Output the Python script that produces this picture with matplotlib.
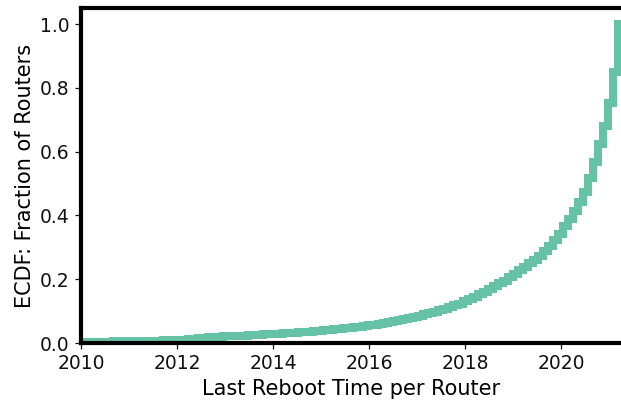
import numpy as np
import matplotlib
matplotlib.use('Agg')
import matplotlib.pyplot as plt

# cumulative fraction per bin, bins of ~38 days
bin_start = 2009.9375
bin_width = 0.10417
ecdf = [
    0.004, 0.004, 0.004, 0.005, 0.005, 0.005, 0.005, 0.006, 0.006, 0.006,
    0.006, 0.007, 0.007, 0.007, 0.008, 0.008, 0.008, 0.009, 0.009, 0.009,
    0.010, 0.011, 0.012, 0.014, 0.016, 0.017, 0.018, 0.019, 0.020, 0.021,
    0.021, 0.022, 0.023, 0.023, 0.024, 0.025, 0.026, 0.027, 0.028, 0.029,
    0.030, 0.031, 0.032, 0.033, 0.034, 0.035, 0.036, 0.038, 0.039, 0.041,
    0.042, 0.044, 0.045, 0.047, 0.048, 0.050, 0.052, 0.054, 0.056, 0.058,
    0.060, 0.063, 0.066, 0.069, 0.072, 0.075, 0.078, 0.082, 0.086, 0.090,
    0.095, 0.099, 0.103, 0.108, 0.113, 0.118, 0.124, 0.131, 0.138, 0.145,
    0.153, 0.161, 0.170, 0.179, 0.188, 0.196, 0.207, 0.218, 0.229, 0.240,
    0.250, 0.260, 0.274, 0.289, 0.305, 0.322, 0.342, 0.367, 0.389, 0.414,
    0.442, 0.473, 0.517, 0.567, 0.624, 0.680, 0.752, 0.851, 1.000,
]
data_end = 2021.6

xticks = [2010, 2012, 2014, 2016, 2018, 2020]
yticks = [0.0, 0.2, 0.4, 0.6, 0.8, 1.0]

x = bin_start + bin_width * np.arange(len(ecdf))
x = np.append(x, data_end)
y = np.append(ecdf, ecdf[-1])

fig = plt.figure(figsize=(6.21, 4.07), dpi=100)
ax = fig.add_axes([0.1304, 0.157, 0.8696, 0.823])
ax.step(x, y, where='post', color='#66c2a5', linewidth=5.8,
        solid_joinstyle='miter', solid_capstyle='butt')

ax.set_xlim(2010, 2021.25)
ax.set_ylim(0, 1.05)
ax.set_xticks(xticks)
ax.set_yticks(yticks)
ax.set_xticklabels([str(t) for t in xticks])
ax.set_yticklabels(['%.1f' % t for t in yticks])
ax.tick_params(labelsize=13.5, colors='#111111', length=4.5, width=0.9)
ax.set_xlabel('Last Reboot Time per Router', fontsize=15)
ax.set_ylabel('ECDF: Fraction of Routers', fontsize=15)

for s in ['left', 'top', 'bottom']:
    ax.spines[s].set_linewidth(3)
    ax.spines[s].set_color('black')
ax.spines['right'].set_visible(False)

fig.savefig('out.png', dpi=100)
